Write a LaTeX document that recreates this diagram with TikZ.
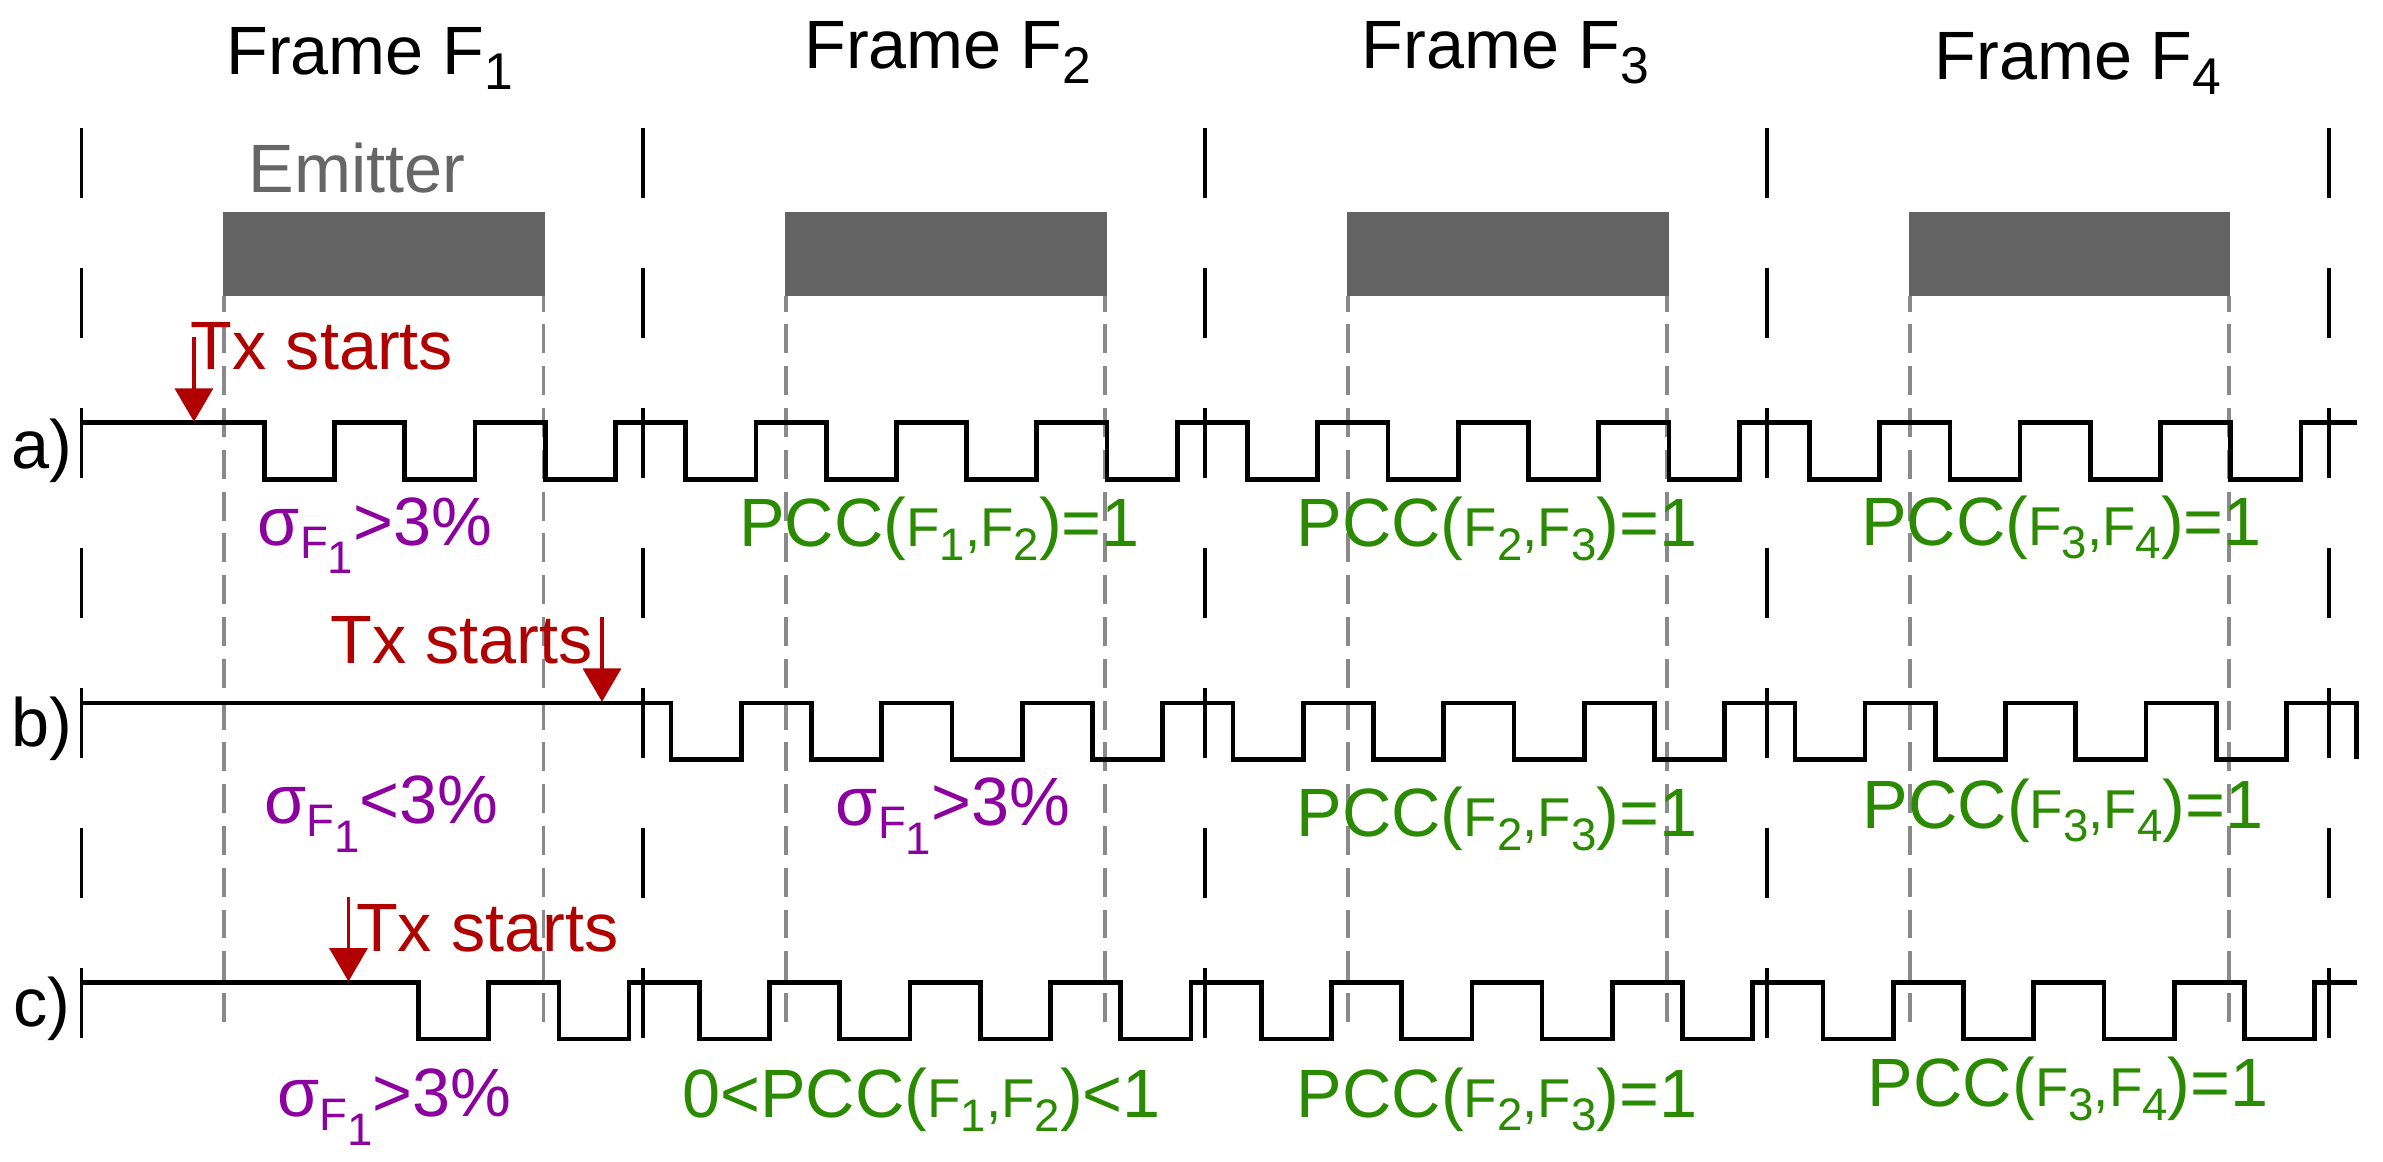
\documentclass[tikz,border=0pt]{standalone}
\usepackage{fontspec}
\setmainfont{Liberation Sans}
\usetikzlibrary{arrows.meta}
\definecolor{txred}{HTML}{B00000}
\definecolor{sigpurple}{HTML}{8C00A0}
\definecolor{pccgreen}{HTML}{2A8A00}
\definecolor{emitgray}{HTML}{636363}
\definecolor{emittext}{HTML}{666666}
\definecolor{dashgray}{HTML}{8A8A8A}
\newcommand\bigfs{\fontsize{45}{54}\selectfont}
\newcommand\midfs{\fontsize{36}{40}\selectfont}
\newcommand\smfs{\fontsize{30}{34}\selectfont}
\newcommand\lowered[2]{\raisebox{-#1pt}{#2}}
\newcommand\frmtitle[1]{Frame F\lowered{10}{\fontsize{34}{34}\selectfont #1}}
\newcommand\sigtext[1]{σ\lowered{9}{\smfs F\lowered{10}{1}}#1}
\newcommand\pcc[2]{PCC({\midfs F\lowered{9}{\smfs #1},F\lowered{9}{\smfs #2}})}
\begin{document}
\begin{tikzpicture}[x=1pt,y=-1pt,
  sig/.style={draw=black, line width=3.1pt},
  bound/.style={draw=black, line width=2.3pt, dash pattern=on 46.06pt off 46.06pt},
  gdash/.style={draw=dashgray, line width=2.4pt, dash pattern=on 19pt off 8.5pt, dash phase=8.5pt},
  emitbar/.style={fill=emitgray},
  txarrow/.style={draw=txred, line width=2.3pt, -{Triangle[length=22pt,width=25pt]}},
  lbl/.style={anchor=base, inner sep=0pt, font=\bigfs},
  titlelbl/.style={lbl, text=black},
  rowlbl/.style={lbl, text=black},
  txlbl/.style={lbl, text=txred},
  sigmalbl/.style={lbl, text=sigpurple},
  pcclbl/.style={lbl, text=pccgreen},
  emitlbl/.style={lbl, text=emittext}]
\path[fill=white] (0,0) rectangle (1568,764);
\useasboundingbox (0,0) rectangle (1568,764);

% emitter bars and gray dashed guides
\foreach \j in {0,...,3}{
  \fill[emitbar] ({146.7+\j*369.7},139.7) rectangle ({358.5+\j*369.7},194.5);
  \draw[gdash] ({147.5+\j*369.7},194.5) -- ({147.5+\j*369.7},672.5);
  \draw[gdash] ({357.5+\j*369.7},194.5) -- ({357.5+\j*369.7},672.5);
}
% frame boundaries
\foreach \j in {0,...,4}
  \draw[bound] ({53.5+\j*369.7},84.4) -- ({53.5+\j*369.7},683.2);

% signals
\coordinate (sa) at (53.7,278.1);
\coordinate (sb) at (53.7,462.5);
\coordinate (sc) at (53.7,646.4);
\draw[sig] (sa) \foreach \k in {0,...,14}{
  -- ({173.9+\k*92.425},278.1) -- ({173.9+\k*92.425},315.4)
  -- ({220.1+\k*92.425},315.4) -- ({220.1+\k*92.425},278.1)} -- (1550.6,278.1);
\draw[sig] (sb) \foreach \k in {0,...,11}{
  -- ({441.6+\k*92.425},462.5) -- ({441.6+\k*92.425},499.6)
  -- ({487.8+\k*92.425},499.6) -- ({487.8+\k*92.425},462.5)} -- (1550.6,462.5) -- (1550.6,499.6);
\draw[sig] (sc) \foreach \k in {0,...,13}{
  -- ({275.3+\k*92.425},646.4) -- ({275.3+\k*92.425},683.6)
  -- ({321.5+\k*92.425},683.6) -- ({321.5+\k*92.425},646.4)} -- (1550.6,646.4);

% titles
\node[titlelbl] (t1) at (243.4,49) {\frmtitle{1}};
\node[titlelbl] (t2) at (623.7,45) {\frmtitle{2}};
\node[titlelbl] (t3) at (990.5,45) {\frmtitle{3}};
\node[titlelbl] (t4) at (1367.3,52) {\frmtitle{4}};
\node[emitlbl] (emit) at (235,126.8) {Emitter};
\node[rowlbl] (rowa) at (27.7,308.2) {a)};
\node[rowlbl] (rowb) at (27.7,491.3) {b)};
\node[rowlbl] (rowc) at (27.7,675.5) {c)};

% Tx starts
\node[txlbl] (txa) at (211.9,243) {Tx starts};
\node[txlbl] (txb) at (303.8,436.5) {Tx starts};
\node[txlbl] (txc) at (320.6,626.2) {Tx starts};
\coordinate (txa0) at (127.6,221.5);
\coordinate (txa1) at (127.6,277.5);
\coordinate (txb0) at (396.1,406.2);
\coordinate (txb1) at (396.1,461.8);
\coordinate (txc0) at (229.3,590.4);
\coordinate (txc1) at (229.3,645.8);
\draw[txarrow] (txa0) -- (txa1);
\draw[txarrow] (txb0) -- (txb1);
\draw[txarrow] (txc0) -- (txc1);

% row labels
\node[sigmalbl] (sa1) at (246.7,358.6) {\sigtext{>3\%}};
\node[pcclbl] (pa2) at (618.2,359.7) {\pcc{1}{2}=1};
\node[pcclbl] (pa3) at (984.9,359.7) {\pcc{2}{3}=1};
\node[pcclbl] (pa4) at (1356.4,358.6) {\pcc{3}{4}=1};
\node[sigmalbl] (sb1) at (250.9,541.7) {\sigtext{<3\%}};
\node[sigmalbl] (sb2) at (627,543) {\sigtext{>3\%}};
\node[pcclbl] (pb3) at (984.9,550.5) {\pcc{2}{3}=1};
\node[pcclbl] (pb4) at (1357.5,545) {\pcc{3}{4}=1};
\node[sigmalbl] (sc1) at (259.4,734.8) {\sigtext{>3\%}};
\node[pcclbl] (pc2) at (606.3,735.2) {0<\pcc{1}{2}<1};
\node[pcclbl] (pc3) at (985,735) {\pcc{2}{3}=1};
\node[pcclbl] (pc4) at (1360.9,728.2) {\pcc{3}{4}=1};
\end{tikzpicture}
\end{document}
